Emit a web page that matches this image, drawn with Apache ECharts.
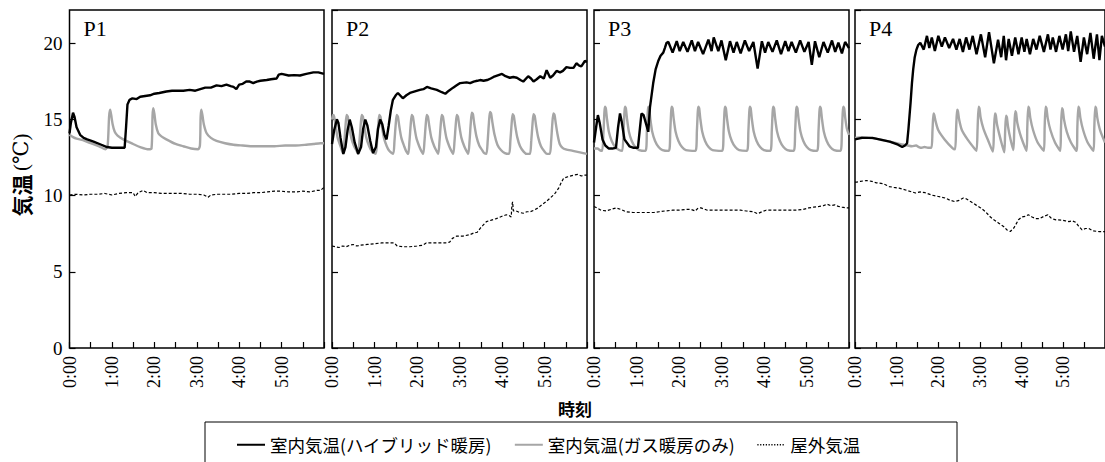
<!DOCTYPE html>
<html>
<head>
<meta charset="utf-8">
<script src="https://cdn.jsdelivr.net/npm/echarts@6/dist/echarts.min.js"></script>
<style>
html,body{margin:0;padding:0;background:#fff;}
#chart{width:1105px;height:462px;}
</style>
</head>
<body>
<div id="chart"></div>
<script>
// ---- Data (time in minutes from 0:00, temperature in °C) ----
const panelNames = ['P1', 'P2', 'P3', 'P4'];
const seriesNames = ['室内気温(ハイブリッド暖房)', '室内気温(ガス暖房のみ)', '屋外気温'];
const xTickLabels = ['0:00', '1:00', '2:00', '3:00', '4:00', '5:00'];
const yTicks = [0, 5, 10, 15, 20];

const p1Hybrid = [[0,14.1],[2,14.8],[5,15.45],[7,15.2],[10,14.5],[15,14.0],[20,13.8],[25,13.7],[34,13.55],[45,13.35],[53,13.2],[60,13.15],[70,13.15],[78,13.15],[80,14.5],[82,16.0],[85,16.3],[89,16.4],[95,16.35],[100,16.5],[107,16.55],[114,16.6],[120,16.7],[127,16.75],[137,16.85],[145,16.9],[155,16.9],[161,16.9],[170,16.95],[178,16.9],[185,17.0],[192,17.1],[200,17.1],[208,17.25],[215,17.2],[222,17.3],[228,17.2],[232,17.15],[236,17.0],[240,17.3],[245,17.35],[250,17.5],[255,17.5],[260,17.4],[265,17.5],[270,17.55],[279,17.6],[285,17.65],[293,17.7],[296,17.95],[300,18.0],[310,17.9],[318,17.92],[326,17.9],[335,18.0],[340,18.05],[345,18.1],[352,18.1],[360,18.0]];
const p1Gas = [[0,14.0],[5,13.85],[10,13.75],[19,13.65],[30,13.45],[42,13.25],[51,13.05],[54,13.3],[56,15.2],[57.5,15.65],[59,15.3],[61,14.7],[64,14.2],[68,13.95],[76,13.7],[90,13.4],[100,13.2],[112,13.05],[116,13.1],[117.5,15.3],[118.5,15.75],[120,15.4],[122,14.7],[125.6,14.1],[130,13.9],[137,13.7],[150,13.4],[161,13.25],[172,13.1],[182,13.05],[184.5,13.3],[185.5,15.2],[186.5,15.65],[188,15.3],[190,14.7],[194,14.1],[200,13.8],[208,13.6],[220,13.45],[232,13.35],[245,13.3],[260,13.25],[275,13.25],[290,13.25],[305,13.3],[320,13.3],[335,13.35],[345,13.4],[355,13.45],[360,13.45]];
const p1Out = [[0,10.05],[10,10.1],[20,10.05],[30,10.1],[40,10.1],[50,10.15],[60,10.05],[70,10.15],[80,10.2],[90,10.2],[93,9.95],[97,10.2],[104,10.35],[110,10.2],[120,10.2],[130,10.15],[140,10.15],[150,10.15],[160,10.15],[170,10.1],[180,10.1],[190,10.05],[196,9.9],[200,10.05],[210,10.1],[220,10.1],[230,10.1],[240,10.15],[250,10.15],[260,10.2],[270,10.2],[280,10.25],[290,10.3],[300,10.3],[310,10.25],[320,10.25],[330,10.3],[340,10.25],[350,10.35],[355,10.35],[360,10.55]];

const p2Hybrid = [[0,13.4],[3,14.3],[7,15.0],[9,14.8],[12,13.8],[16,12.75],[19,13.2],[22,14.3],[25,15.0],[28,14.5],[32,13.5],[37,12.75],[41,13.2],[44,14.4],[47,15.0],[50,14.6],[54,13.6],[58,12.8],[62,13.2],[65,14.4],[68,15.0],[71,14.7],[74,14.0],[77,13.7],[80,14.6],[83,15.6],[86,16.3],[90,16.6],[93,16.75],[96,16.6],[100,16.4],[105,16.6],[110,16.75],[117,16.85],[124,16.95],[129,17.0],[134,17.15],[140,17.05],[148,16.95],[155,16.8],[160,16.7],[165,16.9],[171,17.1],[176,17.25],[181,17.4],[190,17.45],[195,17.4],[200,17.5],[205,17.55],[209,17.6],[214,17.55],[219,17.6],[224,17.7],[228,17.8],[234,17.9],[240,18.0],[245,17.85],[251,17.75],[256,17.8],[261,17.75],[266,17.6],[270,17.5],[277,17.85],[281,17.7],[284.5,17.5],[289,17.65],[294,17.85],[299,17.7],[303,18.25],[308,17.75],[312,17.9],[317,18.2],[322,18.1],[326,18.2],[331,18.45],[336,18.4],[341,18.4],[345,18.7],[349,18.55],[352,18.5],[357,18.85],[360,18.8]];
const p2Gas = [[0,15.0],[1.5,15.3],[3,15.2],[5,14.6],[8,13.8],[12,13.25],[15.7,12.75],
[17.5,13.6],[19.1,14.6],[20.7,15.3],[22.3,15.2],[24.2,14.6],[27.2,13.8],[31.2,13.25],[34.7,12.95],
[37,12.75],[38.8,13.6],[40.4,14.6],[42,15.3],[43.6,15.2],[45.5,14.6],[48.5,13.8],[52.5,13.25],[56,12.95],
[61.8,12.75],[63.6,13.6],[65.2,14.6],[66.8,15.3],[68.4,15.2],[70.3,14.6],[73.3,13.8],[77.3,13.25],[80.8,12.95],
[86.4,12.75],[88.2,13.6],[89.8,14.6],[91.4,15.3],[93,15.2],[94.9,14.6],[97.9,13.8],[101.9,13.25],[104.5,12.95],
[107.6,12.75],[109.4,13.6],[111,14.6],[112.6,15.3],[114.2,15.2],[116.1,14.6],[119.1,13.8],[123.1,13.25],[126,12.95],
[128.8,12.75],[130.6,13.6],[132.2,14.6],[133.8,15.3],[135.4,15.2],[137.3,14.6],[140.3,13.8],[144.3,13.25],[147.5,12.95],
[150,12.75],[151.8,13.6],[153.4,14.6],[155,15.3],[156.6,15.2],[158.5,14.6],[161.5,13.8],[165.5,13.25],[168.5,12.95],
[171.2,12.75],[173,13.6],[174.6,14.6],[176.2,15.3],[177.8,15.2],[179.7,14.6],[182.7,13.8],[186.7,13.25],[189.8,12.95],
[192.4,12.75],[194.2,13.6],[195.8,14.7],[197.4,15.45],[199,15.35],[200.9,14.7],[203.9,13.9],[207.9,13.3],[212,13.0],[215,12.8],
[218,12.75],[219.8,13.6],[221.4,14.7],[223,15.5],[224.6,15.4],[226.5,14.8],[229.5,14.0],[233.5,13.35],[238.5,13.0],[244,12.8],
[250,12.75],[251.8,13.6],[253.4,14.6],[255,15.35],[256.6,15.25],[258.5,14.65],[261.5,13.85],[265.5,13.25],[270.5,12.9],[275,12.75],
[279.5,12.75],[281.3,13.6],[282.9,14.6],[284.5,15.35],[286.1,15.25],[288,14.65],[291,13.85],[295,13.25],[300,12.9],[303.5,12.75],
[307.6,12.75],[309.4,13.6],[311,14.7],[312.6,15.4],[314.2,15.3],[316.1,14.7],[318.5,14.0],[321.5,13.4],[325.5,13.15],[330,13.05],[340,12.95],[350,12.85],[360,12.75]];
const p2Out = [[0,6.7],[5,6.65],[10,6.6],[15,6.7],[20,6.65],[25,6.75],[30,6.8],[35,6.7],[40,6.75],[50,6.8],[60,6.85],[70,6.9],[80,6.9],[88,6.9],[92,6.7],[100,6.65],[110,6.65],[120,6.7],[128,6.75],[133,6.9],[140,6.9],[150,6.9],[160,6.9],[166,6.95],[170,7.2],[176,7.35],[185,7.35],[195,7.45],[200,7.55],[205,7.6],[210,7.9],[214,8.1],[218,8.3],[225,8.4],[232,8.5],[240,8.65],[246,8.75],[250,8.7],[253,8.6],[254,9.4],[255,9.6],[256,9.0],[260,9.0],[265,8.9],[270,8.85],[275,8.95],[280,8.95],[285,9.05],[291,9.2],[296,9.4],[302,9.6],[308,9.85],[314,10.1],[320,10.5],[324,10.9],[327,11.15],[333,11.25],[341,11.35],[347,11.4],[352,11.3],[356,11.35],[360,11.35]];

const p3Hybrid = [[0,13.5],[3,14.5],[5.5,15.3],[8,14.8],[12,13.7],[16,13.3],[21,13.1],[26,13.1],[31,13.15],[34,14.5],[36.7,15.4],[39,14.9],[43,13.7],[50,13.25],[56,13.15],[62,13.15],[65,14.5],[67,15.4],[70,15.3],[73,14.8],[76.6,14.2],[79,15.8],[83.6,17.4],[87,18.3],[90.7,18.85],[94,19.2],[97.8,19.4],[100,19.7],[102.5,20.05],
[105,20.1],[111,19.4],[116.8,20.15],[121,19.5],[126,20.1],[132,19.45],[138,20.2],[142.5,19.5],[147,20.1],[154,19.3],[161.5,20.25],[166,19.5],[169,20.4],[175.5,19.5],[180,20.2],[186,18.9],[192,20.15],[197,19.4],[201.5,20.1],[207,19.35],[213,20.2],[219,19.5],[225,20.1],[231,18.35],[237,20.15],[241.5,19.4],[246,20.1],[252,19.45],[258,20.2],[264,19.3],[270,20.15],[274.5,19.5],[279,20.1],[285,19.4],[291,20.2],[297,19.45],[303,20.1],[307.5,18.6],[312,20.15],[318,19.1],[324,20.1],[330,19.4],[336,20.2],[340.5,19.45],[345,20.05],[350,19.35],[354.5,20.1],[360,19.7]];
const p3Gas = [[0,13.1],[5,13.1],[8,13.0],[11.5,12.95],[13.5,14.3],[14.7,15.5],[15.5,15.85],[16.7,15.75],[18.2,15.1],[21,14.2],[25,13.6],[30,13.2],[35.5,13.0],[39.8,12.95],
[41.8,14.3],[43,15.5],[43.8,15.85],[45,15.75],[46.5,15.1],[49.3,14.2],[53.3,13.6],[58.3,13.2],[63.8,13.0],[72.7,12.95],
[74.7,14.3],[75.9,15.5],[76.7,15.85],[77.9,15.75],[79.4,15.1],[82.2,14.2],[86.2,13.6],[91.2,13.2],[96.7,13.0],[105.7,12.95],
[107.7,14.3],[108.9,15.5],[109.7,15.85],[110.9,15.75],[112.4,15.1],[115.2,14.2],[119.2,13.6],[124.2,13.2],[129.7,13.0],[143.3,12.95],
[145.3,14.3],[146.5,15.5],[147.3,15.85],[148.5,15.75],[150,15.1],[152.8,14.2],[156.8,13.6],[161.8,13.2],[167.3,13.0],[181,12.95],
[183,14.3],[184.2,15.5],[185,15.85],[186.2,15.75],[187.7,15.1],[190.5,14.2],[194.5,13.6],[199.5,13.2],[205,13.0],[216,12.95],
[218,14.3],[219.2,15.5],[220,15.85],[221.2,15.75],[222.7,15.1],[225.5,14.2],[229.5,13.6],[234.5,13.2],[240,13.0],[249,12.95],
[251,14.3],[252.2,15.5],[253,15.85],[254.2,15.75],[255.7,15.1],[258.5,14.2],[262.5,13.6],[267.5,13.2],[273,13.0],[282,12.95],
[284,14.3],[285.2,15.5],[286,15.85],[287.2,15.75],[288.7,15.1],[291.5,14.2],[295.5,13.6],[300.5,13.2],[306,13.0],[315,12.95],
[317,14.3],[318.2,15.5],[319,15.85],[320.2,15.75],[321.7,15.1],[324.5,14.2],[328.5,13.6],[333.5,13.2],[339,13.0],[348,12.95],
[350,14.3],[351.2,15.5],[352,15.85],[353.2,15.75],[354.7,15.1],[357,14.4],[360,14.0]];
const p3Out = [[0,9.3],[4,9.2],[10,9.05],[17,9.0],[24,9.1],[31,9.2],[38,9.1],[45,8.95],[55,8.9],[65,8.9],[75,8.9],[85,8.9],[92,8.95],[100,9.0],[111,9.05],[120,9.05],[130,9.1],[137,9.1],[143,9.0],[147,9.2],[151,9.2],[160,9.05],[170,9.05],[180,9.05],[190,9.05],[200,9.05],[207,9.05],[215,9.0],[225,8.95],[231,8.82],[237,8.95],[243,9.05],[255,9.05],[265,9.05],[275,9.05],[285,9.05],[295,9.1],[303,9.2],[310,9.25],[318,9.3],[324,9.35],[329,9.45],[334,9.35],[340,9.4],[345,9.3],[350,9.25],[356,9.2],[360,9.2]];

const p4Hybrid = [[0,13.7],[5,13.75],[10,13.8],[15,13.8],[20,13.8],[25,13.8],[30,13.75],[40,13.65],[50,13.55],[56,13.45],[62,13.35],[66,13.25],[68,13.2],[72,13.3],[75,13.45],[77,14.4],[80,16.1],[82,17.4],[83.8,18.3],[86,19.1],[88.5,19.6],[91,19.9],[94,20.05],
[99,19.6],[103.6,20.5],[107,19.7],[110.6,20.4],[115,19.5],[120,20.5],[125,19.8],[129.5,20.4],[135.6,19.7],[141.2,20.3],[146,19.6],[150.7,20.3],[155.4,19.45],[160,20.4],[164.8,19.6],[169.5,20.5],[175,19.3],[181.3,20.6],[187.4,19.1],[193,20.75],[200,18.7],[206,20.25],[210.5,19.1],[214.2,20.5],[217.5,18.9],[221.3,20.3],[226,19.2],[230.7,20.4],[235.4,19.3],[240,20.4],[243.9,19.45],[247.2,20.3],[251.9,19.3],[256.6,20.3],[261.3,19.6],[266,20.5],[272,19.45],[277.8,20.6],[281.5,19.6],[284.8,20.4],[289.5,19.45],[294.3,20.5],[299,19.6],[303.7,20.6],[307,19.5],[310.7,20.8],[315.4,19.45],[320,20.5],[324.9,18.8],[329.6,20.4],[334.3,19.3],[339,20.7],[343.7,19.0],[348.4,20.6],[352,18.9],[355.5,20.5],[360,19.8]];
const p4Gas = [[0,13.8],[10,13.85],[20,13.8],[30,13.75],[40,13.65],[50,13.55],[60,13.45],[70,13.35],[76,13.3],[82,13.25],[88,13.3],[92,13.2],[96,13.15],[100,13.2],[105,13.15],[110,13.15],
[111.6,14.3],[113,15.4],[114.2,15.3],[116,14.9],[120,14.3],[129,13.7],[140,13.15],[144,13.05],
[145.6,14.4],[147,15.65],[148.2,15.55],[150,15.0],[154,14.3],[162,13.7],[172,13.1],[175,12.95],
[176.6,14.5],[178,15.85],[179.2,15.75],[181,15.1],[185,14.4],[192,13.6],[198.5,12.9],
[200.1,14.3],[201.5,15.4],[202.7,15.3],[204.5,14.7],[208,14.0],[212,13.3],[215,12.85],
[216.2,14.2],[217.5,15.25],[218.7,15.15],[220.5,14.5],[224,13.7],[228,13.0],
[229.3,14.3],[230.7,15.55],[231.9,15.45],[233.7,14.8],[237.5,14.1],[242,13.5],[247,12.95],
[248.1,14.5],[249.5,15.85],[250.7,15.75],[252.5,15.1],[256.5,14.3],[263,13.5],[272,12.95],
[273.1,14.5],[274.5,15.85],[275.7,15.75],[277.5,15.1],[281.5,14.3],[288,13.5],[295.5,12.95],
[296.6,14.4],[298,15.75],[299.2,15.65],[301,15.0],[305,14.2],[311,13.5],[319,12.95],
[320.2,14.5],[321.6,15.85],[322.8,15.75],[324.6,15.1],[328.6,14.3],[335,13.5],[343.5,12.95],
[344.6,14.5],[346,15.85],[347.2,15.75],[349,15.1],[353,14.3],[360,13.5]];
const p4Out = [[0,10.9],[2.4,10.9],[8,10.95],[16.5,11.0],[24,10.95],[30.6,10.85],[40,10.8],[49.4,10.6],[56,10.55],[63.6,10.5],[75,10.35],[87,10.18],[94,10.25],[101,10.2],[110,10.05],[120,9.95],[130,9.85],[137,9.7],[143.6,9.62],[150,9.7],[156,9.85],[160,9.8],[167,9.6],[174,9.4],[181,9.2],[188,8.95],[195,8.6],[200,8.42],[207,8.2],[214,7.98],[219,7.75],[223.6,7.65],[229,7.9],[235.4,8.42],[240,8.6],[245,8.65],[249.5,8.75],[255,8.6],[260,8.5],[266,8.5],[272,8.65],[277.8,8.75],[283,8.5],[289.5,8.42],[297,8.4],[303,8.35],[308,8.3],[313,8.35],[318,8.25],[322,8.0],[327,7.76],[332,7.85],[336.6,7.85],[342,7.7],[350.8,7.65],[360,7.65]];

const hybridData = [p1Hybrid, p2Hybrid, p3Hybrid, p4Hybrid];
const gasData = [p1Gas, p2Gas, p3Gas, p4Gas];
const outData = [p1Out, p2Out, p3Out, p4Out];

// ---- Layout ----
const gridLefts = [69.5, 332, 594, 855];
const gridWidth = 255;
const gridTop = 10, gridHeight = 338;
const serif = '"Liberation Serif", "DejaVu Serif", serif';
const cjk = '"Noto Sans CJK JP", "Noto Sans", sans-serif';

const grids = [], xAxes = [], yAxes = [], series = [], graphics = [];
panelNames.forEach((p, i) => {
  grids.push({left: gridLefts[i], top: gridTop, width: i === 0 ? 254.5 : gridWidth, height: gridHeight,
    show: true, borderColor: '#000', borderWidth: 1.5, backgroundColor: 'transparent', containLabel: false});
  xAxes.push({type: 'value', gridIndex: i, min: 0, max: 360, interval: 30,
    axisLine: {show: false}, splitLine: {show: false},
    axisTick: {show: true, inside: true, length: 6, lineStyle: {color: '#000', width: 1.2}},
    axisLabel: {show: true, rotate: 90, margin: 8, color: '#000', fontFamily: serif, fontSize: 18,
      formatter: v => (v % 60 === 0 && v < 360) ? xTickLabels[v / 60] : ''}});
  yAxes.push({type: 'value', gridIndex: i, min: 0, max: 22.2, interval: 5,
    axisLine: {show: false}, splitLine: {show: false},
    axisTick: {show: true, inside: true, length: 6, lineStyle: {color: '#000', width: 1.2}},
    axisLabel: {show: i === 0, margin: 7, color: '#000', fontFamily: serif, fontSize: 19, showMaxLabel: false,
      formatter: v => yTicks.indexOf(v) >= 0 ? String(v) : ''}});
  series.push({name: seriesNames[0], type: 'line', xAxisIndex: i, yAxisIndex: i, data: hybridData[i],
    symbol: 'none', showSymbol: false, color: '#000', lineStyle: {color: '#000', width: 2.4}, z: 3});
  series.push({name: seriesNames[1], type: 'line', xAxisIndex: i, yAxisIndex: i, data: gasData[i],
    symbol: 'none', showSymbol: false, smooth: 0.25, color: '#a6a6a6', lineStyle: {color: '#a6a6a6', width: 2.4}, z: 2});
  series.push({name: seriesNames[2], type: 'line', xAxisIndex: i, yAxisIndex: i, data: outData[i],
    symbol: 'none', showSymbol: false, color: '#000', lineStyle: {color: '#000', width: 1.2, type: [3, 2]}, z: 4});
  graphics.push({type: 'text', left: gridLefts[i] + 14, top: 17,
    style: {text: p, font: '22px ' + serif, fill: '#000'}});
});

// Y-axis title (rotated) and x-axis title
graphics.push({type: 'text', x: 21, y: 175, rotation: Math.PI / 2,
  style: {text: '{a|気温} {b|(℃)}', align: 'center', verticalAlign: 'middle',
    rich: {a: {fontFamily: cjk, fontWeight: 'bold', fontSize: 21, fill: '#000'},
           b: {fontFamily: serif, fontSize: 21, fill: '#000'}}}});
graphics.push({type: 'text', left: 558, top: 400, style: {text: '時刻', font: 'bold 17px ' + cjk, fill: '#000'}});
graphics.push({type: 'rect', shape: {x: 205, y: 422, width: 752, height: 60}, style: {fill: 'none', stroke: '#000', lineWidth: 1}});

const chart = echarts.init(document.getElementById('chart'), null, {renderer: 'svg'});
chart.setOption({
  animation: false,
  backgroundColor: '#fff',
  grid: grids,
  xAxis: xAxes,
  yAxis: yAxes,
  series: series,
  legend: {left: 231, top: 431, itemWidth: 28, itemHeight: 12, itemGap: 22,
    data: [{name: seriesNames[0]}, {name: seriesNames[1]},
           {name: seriesNames[2], lineStyle: {type: [1.2, 1.6], width: 1.4}}],
    itemStyle: {color: 'rgba(0,0,0,0)', borderColor: 'rgba(0,0,0,0)', borderWidth: 0},
    textStyle: {fontFamily: cjk, fontSize: 17.5, color: '#000'}, selectedMode: false},
  graphic: graphics
});
</script>
</body>
</html>
